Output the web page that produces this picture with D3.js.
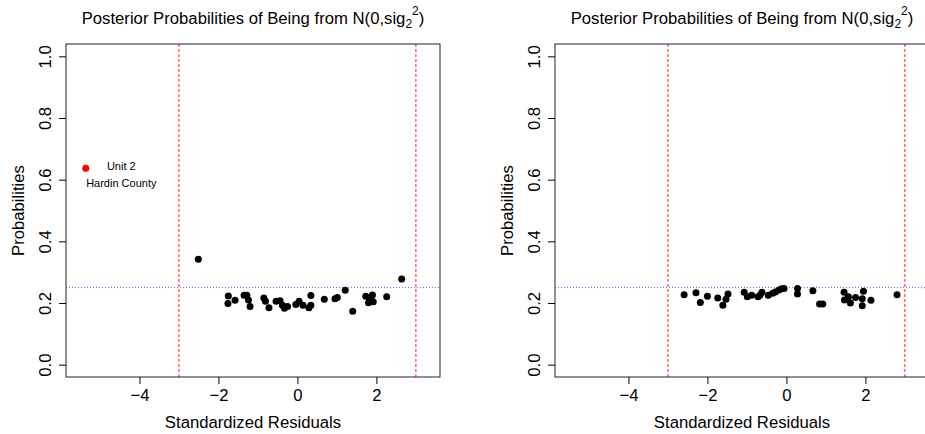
<!DOCTYPE html>
<html>
<head>
<meta charset="utf-8">
<script src="https://cdn.jsdelivr.net/npm/d3@7"></script>
<style>
  body { margin: 0; background: #fff; }
  svg { display: block; font-family: "Liberation Sans", Arial, sans-serif; }
</style>
</head>
<body>
<div id="chart"></div>
<script>
// residuals and posterior probabilities
const leftResid = [-2.51, -1.75, -1.76, -1.58, -1.35, -1.28, -1.24, -1.20, -0.85, -0.81, -0.72,
  -0.54, -0.44, -0.38, -0.33, -0.25, -0.04, 0.04, 0.14, 0.34, 0.34, 0.29, 0.68, 0.95, 1.01,
  1.21, 1.40, 1.73, 1.90, 1.80, 1.92, 1.83, 2.26, 2.64];
const leftProb = [0.342, 0.223, 0.198, 0.209, 0.225, 0.225, 0.210, 0.189, 0.216, 0.206, 0.185,
  0.206, 0.207, 0.193, 0.183, 0.189, 0.195, 0.206, 0.193, 0.224, 0.193, 0.185, 0.212, 0.214, 0.218,
  0.241, 0.173, 0.222, 0.226, 0.201, 0.204, 0.210, 0.220, 0.278];

const rightResid = [-2.59, -2.29, -2.18, -2.00, -1.74, -1.61, -1.53, -1.48, -1.07, -0.99, -0.88,
  -0.72, -0.67, -0.62, -0.46, -0.35, -0.28, -0.19, -0.12, -0.06, 0.28, 0.28, 0.67, 0.84, 0.92,
  1.46, 1.47, 1.57, 1.62, 1.75, 1.95, 1.92, 1.92, 2.14, 2.80];
const rightProb = [0.227, 0.233, 0.202, 0.222, 0.216, 0.193, 0.212, 0.229, 0.235, 0.220, 0.225,
  0.220, 0.225, 0.235, 0.225, 0.232, 0.236, 0.242, 0.246, 0.247, 0.247, 0.229, 0.240, 0.197, 0.197,
  0.235, 0.210, 0.220, 0.200, 0.218, 0.238, 0.214, 0.191, 0.209, 0.227];

// the outlying unit in the left panel
const outlierResid = [-5.36];
const outlierProb = [0.637];
const noteText = ["Unit 2", "Hardin County"];
const noteX = [-4.46, -4.46];
const noteY = [0.645, 0.59];

const xTicks = [-4, -2, 0, 2];
const yTicks = [0, 0.2, 0.4, 0.6, 0.8, 1.0];
const cutoffs = [-3, 3];
const refLine = 0.25;

const W = 925, H = 434;
const svg = d3.select("#chart").append("svg")
  .attr("width", W).attr("height", H);

// plot region for each panel (right one runs past the window edge like the original)
const boxW = 374, plotTop = 44, plotBottom = 377;
const panels = [
  {left: 66, xs: leftResid, ys: leftProb, outlier: true},
  {left: 555, xs: rightResid, ys: rightProb, outlier: false}
];

const y = d3.scaleLinear().domain([-0.04, 1.04]).range([plotBottom, plotTop]);

panels.forEach(p => {
  const x = d3.scaleLinear().domain([-5.86, 3.61]).range([p.left, p.left + boxW]);
  const g = svg.append("g");

  // dashed cut-offs at +-3
  g.selectAll(".cut").data(cutoffs).enter().append("line")
    .attr("x1", d => x(d)).attr("x2", d => x(d))
    .attr("y1", plotTop).attr("y2", plotBottom)
    .attr("stroke", "#ff1a1a").attr("stroke-width", 1)
    .attr("stroke-dasharray", "3,2");

  // dotted reference line at 0.25
  g.append("line")
    .attr("x1", p.left).attr("x2", p.left + boxW)
    .attr("y1", y(refLine)).attr("y2", y(refLine))
    .attr("stroke", "#6666ee").attr("stroke-width", 1)
    .attr("stroke-dasharray", "1,2");

  // points
  g.selectAll(".pt").data(p.xs).enter().append("circle")
    .attr("cx", d => x(d))
    .attr("cy", (d, i) => y(p.ys[i]))
    .attr("r", 3.5).attr("fill", "black");

  if (p.outlier) {
    g.selectAll(".out").data(outlierResid).enter().append("circle")
      .attr("cx", d => x(d))
      .attr("cy", (d, i) => y(outlierProb[i]))
      .attr("r", 3.5).attr("fill", "red");
    g.selectAll(".note").data(noteText).enter().append("text")
      .attr("x", (d, i) => x(noteX[i]))
      .attr("y", (d, i) => y(noteY[i]))
      .attr("dy", "0.35em")
      .attr("text-anchor", "middle")
      .style("font-size", "11px")
      .text(d => d);
  }

  // frame
  g.append("rect")
    .attr("x", p.left).attr("y", plotTop)
    .attr("width", boxW).attr("height", plotBottom - plotTop)
    .attr("fill", "none").attr("stroke", "#222").attr("stroke-width", 1);

  // axes
  const xAxis = g.append("g")
    .attr("transform", `translate(0, ${plotBottom})`)
    .call(d3.axisBottom(x).tickValues(xTicks).tickSizeOuter(0).tickSize(7)
      .tickFormat(d => d < 0 ? "\u2212" + Math.abs(d) : d));
  xAxis.select(".domain").remove();
  xAxis.selectAll("text").attr("y", 24).attr("dy", 0)
    .style("font-size", "16.7px").style("font-family", "Liberation Sans, Arial, sans-serif");

  const yAxis = g.append("g")
    .attr("transform", `translate(${p.left}, 0)`)
    .call(d3.axisLeft(y).tickValues(yTicks).tickSizeOuter(0).tickSize(7).tickFormat(d3.format(".1f")));
  yAxis.select(".domain").remove();
  yAxis.selectAll("text")
    .attr("x", 0).attr("dy", 0).attr("y", 0)
    .attr("text-anchor", "middle")
    .attr("transform", `translate(-15, 0) rotate(-90)`)
    .style("font-size", "16.7px").style("font-family", "Liberation Sans, Arial, sans-serif");

  // labels
  const cx = p.left + boxW / 2;
  g.append("text")
    .attr("x", cx).attr("y", 428)
    .attr("text-anchor", "middle")
    .style("font-size", "16.7px")
    .text("Standardized Residuals");

  g.append("text")
    .attr("transform", `translate(${p.left - 42}, ${(plotTop + plotBottom) / 2}) rotate(-90)`)
    .attr("text-anchor", "middle")
    .style("font-size", "16.7px")
    .text("Probabilities");

  const title = g.append("text")
    .attr("x", cx).attr("y", 23.5)
    .attr("text-anchor", "middle")
    .style("font-size", "16.7px");
  title.append("tspan").text("Posterior Probabilities of Being from N(0,sig");
  title.append("tspan").attr("dy", 4).style("font-size", "12px").text("2");
  title.append("tspan").attr("dy", -13).style("font-size", "12px").text("2");
  title.append("tspan").attr("dy", 9).text(")");
});
</script>
</body>
</html>
